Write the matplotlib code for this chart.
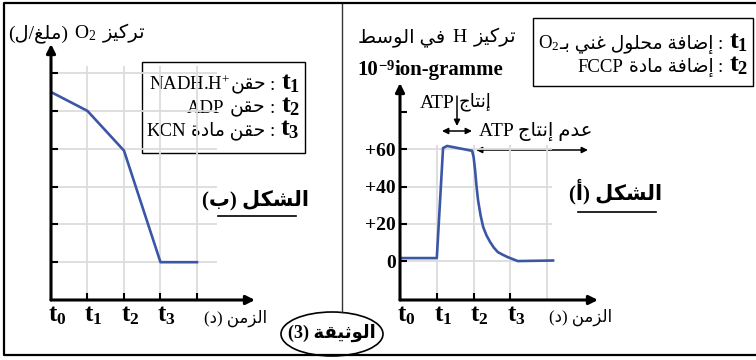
import matplotlib
matplotlib.use("Agg")
import matplotlib.pyplot as plt
from matplotlib.patches import Rectangle, Ellipse
from matplotlib.offsetbox import TextArea, HPacker, AnnotationBbox, DrawingArea
from matplotlib.transforms import ScaledTranslation

plt.rcParams['font.family'] = ['Liberation Serif', 'DejaVu Sans']
plt.rcParams['mathtext.fontset'] = 'custom'
plt.rcParams['mathtext.rm'] = 'Liberation Serif'
plt.rcParams['mathtext.bf'] = 'Liberation Serif:bold'
plt.rcParams['mathtext.it'] = 'Liberation Serif:italic'

# --- data read off the document ---
# figure (b): O2 concentration
o2_times = [0, 1, 2, 3, 4]
o2_conc = [5.5, 5.0, 3.95, 1.0, 1.0]
o2_levels = [1, 2, 3, 4, 5, 6]

# figure (a): H+ concentration in the medium
h_times = [0, 1.0, 1.17, 1.28, 1.96, 2.0, 2.04, 2.08, 2.12, 2.19, 2.26, 2.35, 2.45, 2.55,
           2.66, 2.8, 2.93, 3.2, 4.16]
h_conc = [1.6, 1.6, 60.7, 61.8, 59.2, 55.8, 48.9, 40.0, 32.8, 24.5, 18.3, 13.8, 10.2, 7.2,
          4.8, 3.3, 2.1, 0.0, 0.3]
h_ticks = [0, 20, 40, 60, 80]
h_tick_labels = ['0', '+20', '+40', '+60', '']
h_grid = [0, 20, 40, 60]

t_ticks = [0, 1, 2, 3, 4]
t_labels = [r'$\mathbf{t}_{\mathbf{0}}$', r'$\mathbf{t}_{\mathbf{1}}$',
            r'$\mathbf{t}_{\mathbf{2}}$', r'$\mathbf{t}_{\mathbf{3}}$', '']

BLUE = '#3c56a6'
GRID = '#dcdcdc'

# --- minimal arabic shaping (matplotlib has no text shaping) ---
DUAL = {'ب': 0xFE8F, 'ت': 0xFE95, 'ث': 0xFE99, 'ج': 0xFE9D, 'ح': 0xFEA1, 'خ': 0xFEA5,
        'س': 0xFEB1, 'ش': 0xFEB5, 'ص': 0xFEB9, 'ض': 0xFEBD, 'ط': 0xFEC1, 'ظ': 0xFEC5,
        'ع': 0xFEC9, 'غ': 0xFECD, 'ف': 0xFED1, 'ق': 0xFED5, 'ك': 0xFED9, 'ل': 0xFEDD,
        'م': 0xFEE1, 'ن': 0xFEE5, 'ه': 0xFEE9, 'ي': 0xFEF1}
RIGHT = {'ا': 0xFE8D, 'أ': 0xFE83, 'إ': 0xFE87, 'آ': 0xFE81, 'ة': 0xFE93, 'د': 0xFEA9,
         'ذ': 0xFEAB, 'ر': 0xFEAD, 'ز': 0xFEAF, 'و': 0xFEED, 'ى': 0xFEEF}
TATWEEL = 'ـ'


def ar(s):
    out = []
    for i, c in enumerate(s):
        if c not in DUAL and c not in RIGHT:
            out.append(c)
            continue
        prev = s[i - 1] if i > 0 else ''
        nxt = s[i + 1] if i + 1 < len(s) else ''
        jp = prev in DUAL or prev == TATWEEL
        jn = c in DUAL and (nxt in DUAL or nxt in RIGHT or nxt == TATWEEL)
        if c in RIGHT:
            out.append(chr(RIGHT[c] + (1 if jp else 0)))
        else:
            out.append(chr(DUAL[c] + (3 if jp and jn else 2 if jn else 1 if jp else 0)))
    return ''.join(reversed(out)).translate(str.maketrans('()', ')('))


fig = plt.figure(figsize=(7.56, 3.6), dpi=100)
bg = fig.add_axes([0, 0, 1, 1])
bg.set_xlim(0, 756)
bg.set_ylim(360, 0)
bg.axis('off')


def rich(x, y, parts, ha=1.0, size=14, weight='normal'):
    kids = []
    for p in parts:
        if isinstance(p, (int, float)):
            kids.append(DrawingArea(p, 1))
            continue
        s, kw = (p, {}) if isinstance(p, str) else p
        props = dict(size=size, weight=weight, color='black')
        props.update(kw)
        kids.append(TextArea(s, textprops=props))
    pack = HPacker(children=kids, align='baseline', pad=0, sep=0)
    bg.add_artist(AnnotationBbox(pack, (x, y), xycoords='data', box_alignment=(ha, 0.5),
                                 frameon=False, pad=0))


def tt(n):
    return (r'$\mathbf{t}_{\mathbf{%d}}$' % n, dict(size=19))


# frame of the document
bg.add_patch(Ellipse((332, 334), 102, 44, fc='white', ec='black', lw=1.2, zorder=2))
bg.plot([756, 4, 4, 756], [3, 3, 355, 355], color='black', lw=1.6, zorder=3)
bg.plot([342, 342], [3, 312], color='#333333', lw=1.0)
bg.text(332, 333, ar('الوثيقة (3)'), size=13, weight='bold', ha='center', va='center', zorder=4)


def style_axes(ax, ticks, labels):
    ax.set_facecolor('none')
    for sp in ax.spines.values():
        sp.set_visible(False)
    arrow = dict(arrowstyle='-|>', lw=2.2, color='black', mutation_scale=13, shrinkA=0, shrinkB=0)
    ax.annotate('', xy=(1, 0), xytext=(0, 0), xycoords='axes fraction', arrowprops=arrow)
    ax.annotate('', xy=(0, 1), xytext=(0, 0), xycoords='axes fraction', arrowprops=arrow)
    ax.tick_params(direction='in', length=5, width=1.5, pad=3)
    ax.set_xticks(ticks)
    ax.set_xticklabels(labels, fontsize=18)
    shift = ScaledTranslation(0.06, 0, fig.dpi_scale_trans)
    for lab in ax.get_xticklabels():
        lab.set_transform(lab.get_transform() + shift)


# ---- figure (b) ----
axL = fig.add_axes([51 / 756, 60 / 360, 204 / 756, 256 / 360])
axL.set_xlim(0, 5.59)
axL.set_ylim(0, 6.77)
style_axes(axL, t_ticks, t_labels)
axL.set_yticks(o2_levels)
axL.set_yticklabels([])
axL.vlines(t_ticks[1:], 0, 6.2, color=GRID, lw=1.3, zorder=0)
axL.hlines(o2_levels, 0, 4.55, color=GRID, lw=1.3, zorder=0)
axL.plot(o2_times, o2_conc, color=BLUE, lw=1.9)

rich(8, 33, [ar('(ملغ/ل)'), 4, 'O$_2$', 5, ar('تركيز')], ha=0, size=14)
bg.add_patch(Rectangle((142, 62), 163, 91, fill=False, ec='black', lw=1.0))
rich(300, 84, ['NADH.H$^{+}$', ar('حقن'), 3, ':', 4, tt(1)], size=13.5)
rich(300, 107, ['ADP', 4, ar('حقن'), 3, ':', 4, tt(2)], size=13.5)
rich(300, 130, ['KCN', 4, ar('حقن مادة'), 3, ':', 4, tt(3)], size=13.5)
bg.text(236, 318, ar('الزمن (د)'), size=12, ha='center', va='center')
bg.text(256, 200, ar('الشكل (ب)'), size=15, weight='bold', ha='center', va='center')
bg.plot([218, 296], [216, 216], color='black', lw=1.2)

# ---- figure (a) ----
axR = fig.add_axes([400 / 756, 60 / 360, 198 / 756, 217 / 360])
axR.set_xlim(0, 5.38)
axR.set_ylim(-20.9, 95.6)
style_axes(axR, t_ticks[:4], t_labels[:4])
axR.set_yticks(h_ticks)
axR.set_yticklabels(h_tick_labels, fontsize=14, fontweight='bold')
axR.vlines(t_ticks[1:], -20.9, 62.3, color=GRID, lw=1.3, zorder=0)
axR.hlines(h_grid, 0, 4.13, color=GRID, lw=1.3, zorder=0)
axR.plot(h_times, h_conc, color=BLUE, lw=1.9)

rich(358, 37, [ar('في الوسط'), 5, 'H', 5, ar('تركيز')], ha=0, size=14)
rich(357, 70, ['10', (r'$^{\mathbf{-9}}$', {}), 'ion-gramme'], ha=0, size=15, weight='bold')
bg.add_patch(Rectangle((533, 18), 220, 68, fill=False, ec='black', lw=1.0))
rich(748, 43, ['O$_2$', ar('إضافة محلول غني بـ'), 3, ':', 4, tt(1)], size=13.5)
rich(748, 66, ['FCCP', 4, ar('إضافة مادة'), 3, ':', 4, tt(2)], size=13.5)

bg.text(455, 103, 'ATP', size=14, ha='right', va='center')
bg.text(459, 102, ar('إنتاج'), size=13, ha='left', va='center')
thin = dict(lw=1.1, color='black', shrinkA=0, shrinkB=0, mutation_scale=9)
bg.annotate('', xy=(457, 126), xytext=(457, 96), arrowprops=dict(arrowstyle='-|>', **thin))
bg.annotate('', xy=(472, 131), xytext=(442, 131), arrowprops=dict(arrowstyle='<|-|>', **thin))
bg.text(479, 131, 'ATP ' + ar('عدم إنتاج'), size=14, ha='left', va='center')
bg.annotate('', xy=(588, 150), xytext=(476, 150), arrowprops=dict(arrowstyle='<|-|>', **thin))

bg.text(581, 317, ar('الزمن (د)'), size=12, ha='center', va='center')
bg.text(616, 192, ar('الشكل (أ)'), size=15, weight='bold', ha='center', va='center')
bg.plot([578, 656], [212, 212], color='black', lw=1.2)

fig.savefig('out.png', dpi=100)
